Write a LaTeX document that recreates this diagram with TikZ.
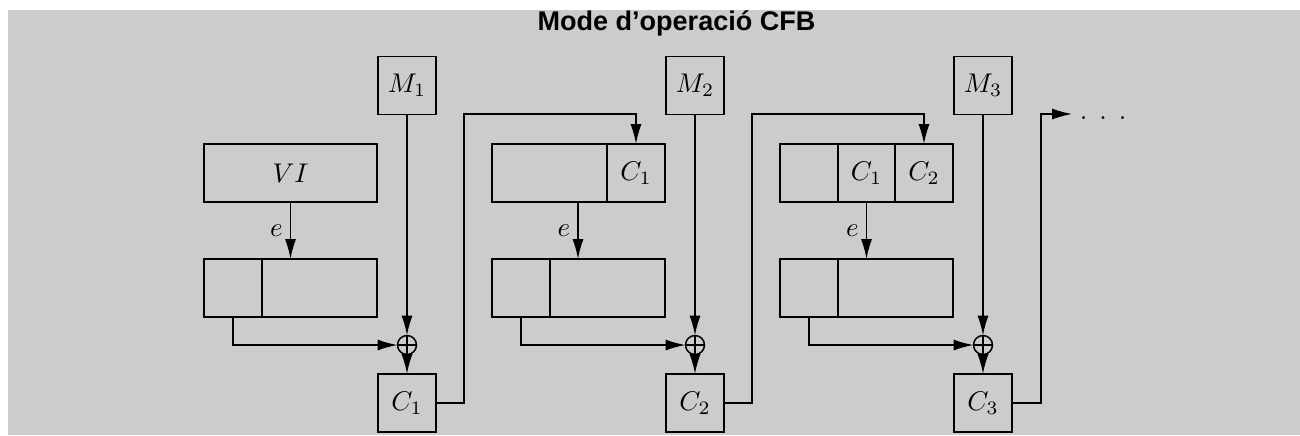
\documentclass[tikz,border=0pt]{standalone}
\usepackage{fontspec}
\newfontfamily\titlefont{Liberation Sans}
\usetikzlibrary{arrows.meta,calc}
\newlength\pxu
\setlength\pxu{0.37pt}
\definecolor{bgc}{RGB}{204,204,204}
\begin{document}
\begin{tikzpicture}[x=0.37pt,y=-0.37pt,
  line width=0.55pt,
  arr/.style={-{Latex[length=7.4pt,width=4.1pt]}},
  cell/.style={draw,inner sep=0pt,outer sep=0pt,minimum height=58\pxu},
  sq/.style={cell,minimum width=58\pxu},
  xorn/.style={draw,circle,inner sep=0pt,outer sep=0pt,minimum size=19\pxu,
    path picture={\draw (path picture bounding box.north)--(path picture bounding box.south)
      (path picture bounding box.west)--(path picture bounding box.east);}},
  elab/.style={left,inner sep=2.6pt}]
\useasboundingbox (0,0) rectangle (1300,435);
\fill[bgc] (8,10) rectangle (1300,435);
\node[anchor=base,inner sep=0pt] (title) at (676.5,30) {\titlefont\bfseries\fontsize{10}{12}\selectfont Mode d’operació CFB};
% module 1
\node[sq] (M1) at (407,85.5) {$M_1$};
\node[cell,minimum width=173\pxu] (T1) at (290.5,173) {$VI$};
\node[sq] (L1a) at (233,288) {};
\node[cell,minimum width=115\pxu] (L1b) at (319.5,288) {};
\node[xorn] (X1) at (407,345) {};
\node[sq] (C1) at (407,403) {$C_1$};
\coordinate (f1) at (464,114);
% module 2
\node[sq] (M2) at (695,85.5) {$M_2$};
\node[cell,minimum width=115\pxu] (T2a) at (549.5,173) {};
\node[sq] (T2b) at (636,173) {$C_1$};
\node[sq] (L2a) at (521,288) {};
\node[cell,minimum width=115\pxu] (L2b) at (607.5,288) {};
\node[xorn] (X2) at (695,345) {};
\node[sq] (C2) at (695,403) {$C_2$};
\coordinate (f2) at (752,114);
% module 3
\node[sq] (M3) at (983,85.5) {$M_3$};
\node[sq] (T3a) at (809,173) {};
\node[cell,minimum width=57\pxu] (T3b) at (866.5,173) {$C_1$};
\node[sq] (T3c) at (924,173) {$C_2$};
\node[sq] (L3a) at (809,288) {};
\node[cell,minimum width=115\pxu] (L3b) at (895.5,288) {};
\node[xorn] (X3) at (983,345) {};
\node[sq] (C3) at (983,403) {$C_3$};
\coordinate (f3) at (1041,114);
\node[anchor=west,inner xsep=2.6pt,inner ysep=0pt,text height=4.4pt,text depth=0pt] (dots) at (1072,114) {. . .};
% connectors module 1
\draw[arr] (T1.south) -- node[elab]{$e$} (T1.south |- L1b.north);
\draw[arr] (M1.south) -- (X1.north);
\draw[arr] (L1a.south) |- (X1.west);
\draw[arr] (X1.south) -- (C1.north);
\draw[arr] (C1.east) -| (f1) -| (T2b.north);
% module 2
\draw[arr] (T2a.south east) ++(-29\pxu,0) coordinate (e2s) -- node[elab]{$e$} (e2s |- L2b.north);
\draw[arr] (M2.south) -- (X2.north);
\draw[arr] (L2a.south) |- (X2.west);
\draw[arr] (X2.south) -- (C2.north);
\draw[arr] (C2.east) -| (f2) -| (T3c.north);
% module 3
\draw[arr] (T3b.south) -- node[elab]{$e$} (T3b.south |- L3b.north);
\draw[arr] (M3.south) -- (X3.north);
\draw[arr] (L3a.south) |- (X3.west);
\draw[arr] (X3.south) -- (C3.north);
\draw[arr] (C3.east) -| (f3) -- (dots.west);
\end{tikzpicture}
\end{document}
